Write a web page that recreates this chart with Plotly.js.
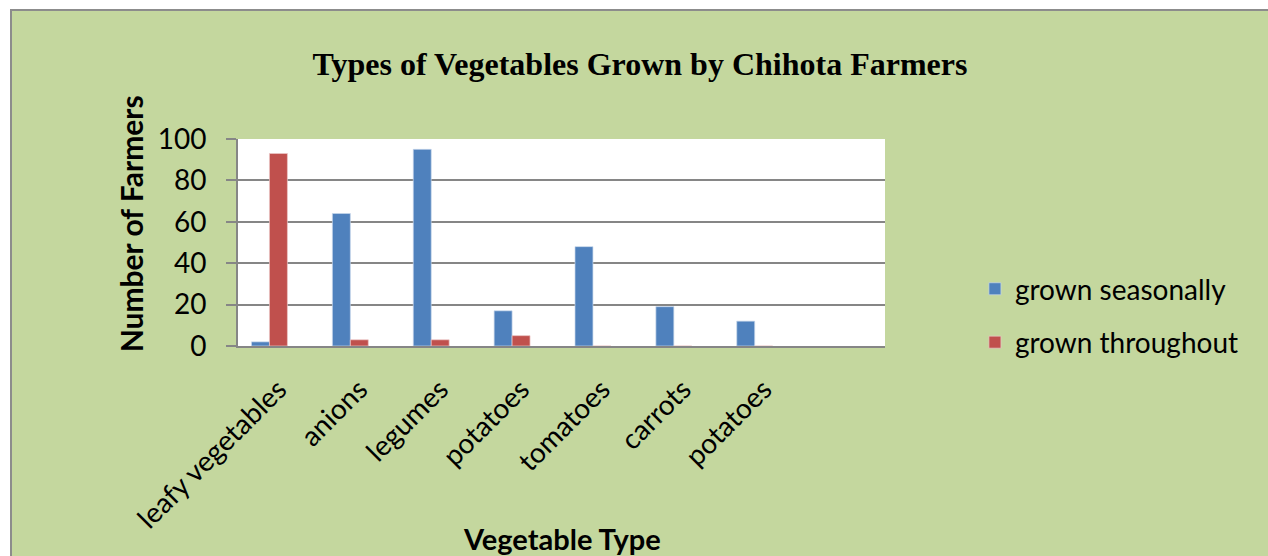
<!DOCTYPE html>
<html>
<head>
<meta charset="utf-8">
<script src="https://cdn.plot.ly/plotly-3.0.1.min.js"></script>
<style>
  html, body { margin: 0; padding: 0; background: #ffffff; width: 1268px; height: 556px; overflow: hidden; }
  #frame {
    position: absolute; left: 10px; top: 9px;
    width: 1256px; height: 545px;
    border-top: 2px solid #8c8c8c; border-left: 2px solid #8c8c8c;
    background: #c4d79e;
  }
  #chart { width: 1256px; height: 545px; }
</style>
</head>
<body>
<div id="frame"><div id="chart"></div></div>
<script>
// Vegetable types (the last slot is an empty category on the axis)
const categories = ['leafy vegetables', 'anions', 'legumes', 'potatoes', 'tomatoes', 'carrots', 'potatoes', ''];
// Number of farmers per vegetable type
const grownSeasonally = [2, 64, 95, 17, 48, 19, 12, null];
const grownThroughout = [93, 3, 3, 5, 0, 0, 0, null];
const seriesNames = ['grown seasonally', 'grown throughout'];
const yTicks = [0, 20, 40, 60, 80, 100];

// categories repeat ("potatoes"), so bars sit on index slots labelled by ticktext
const slots = categories.map((_, i) => i);

const labelFont = 'Lato, "Noto Sans", sans-serif';
const labelSize = 28;

const traces = [
  {
    type: 'bar', name: seriesNames[0], x: slots, y: grownSeasonally,
    width: 0.222, offset: -0.333,
    marker: { color: '#4f81bd', line: { color: 'rgba(200,215,235,0.7)', width: 1 } },
    legendgroup: 'a', hoverinfo: 'x+y'
  },
  {
    type: 'bar', name: seriesNames[1], x: slots, y: grownThroughout,
    width: 0.222, offset: -0.111,
    marker: { color: '#c0504d', line: { color: 'rgba(235,200,200,0.7)', width: 1 } },
    legendgroup: 'b', hoverinfo: 'x+y'
  }
];

const layout = {
  width: 1256, height: 545,
  paper_bgcolor: '#c4d79e', plot_bgcolor: '#ffffff',
  margin: { l: 226, r: 383, t: 128, b: 210, pad: 0 },
  showlegend: true,
  title: {
    text: '<b>Types of Vegetables Grown by Chihota Farmers</b>',
    font: { family: '"Liberation Serif", "Times New Roman", serif', size: 32, color: '#000000' },
    x: 0.5, xanchor: 'center', xref: 'container',
    y: 0.903, yanchor: 'middle', yref: 'container'
  },
  xaxis: {
    range: [-0.5, 7.5],
    tickmode: 'array', tickvals: slots, ticktext: categories,
    tickangle: -45,
    tickfont: { family: labelFont, size: labelSize, color: '#000000' },
    ticks: '', showgrid: false, zeroline: false,
    showline: true, linecolor: '#868686', linewidth: 2,
    ticklabelshift: 0, ticklabelstandoff: 14,
    automargin: false, fixedrange: true
  },
  yaxis: {
    range: [0, 100],
    tickmode: 'array', tickvals: yTicks,
    tickfont: { family: labelFont, size: labelSize, color: '#000000' },
    ticks: 'outside', ticklen: 10, tickwidth: 2, tickcolor: '#868686',
    ticklabelstandoff: 14,
    showgrid: true, gridcolor: '#868686', gridwidth: 2,
    zeroline: false,
    showline: true, linecolor: '#868686', linewidth: 2,
    automargin: false, fixedrange: true
  },
  annotations: [
    {
      // y-axis title, set a little above the middle of the axis
      text: '<b>Number of Farmers</b>',
      font: { family: labelFont, size: 30, color: '#000000' },
      textangle: -90,
      xref: 'paper', x: -0.165, xanchor: 'center',
      yref: 'paper', y: 0.589, yanchor: 'middle',
      showarrow: false
    },
    {
      // x-axis title, sitting beside the long rotated category labels
      text: '<b>Vegetable Type</b>',
      font: { family: labelFont, size: 29, color: '#000000' },
      xref: 'paper', x: 0.5, xanchor: 'center',
      yref: 'paper', y: -0.928, yanchor: 'middle',
      showarrow: false
    }
  ],
  legend: {
    x: 1.139, xanchor: 'left', y: 0.147, yanchor: 'middle',
    font: { family: labelFont, size: labelSize, color: '#000000' },
    traceorder: 'grouped', tracegroupgap: 14,
    bgcolor: 'rgba(0,0,0,0)', itemwidth: 30
  },
  bargap: 0.333
};

Plotly.newPlot('chart', traces, layout, { displayModeBar: false, staticPlot: true });
</script>
</body>
</html>
